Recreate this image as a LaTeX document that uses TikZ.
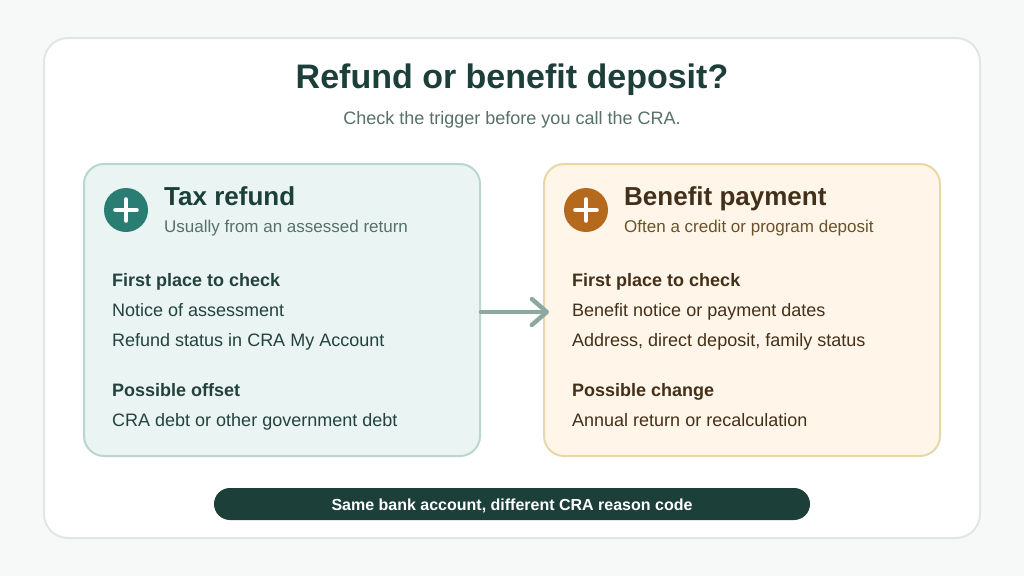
\documentclass[tikz,border=0pt]{standalone}
\usepackage{fontspec}
\setmainfont{Liberation Sans}
\usetikzlibrary{arrows.meta}
\definecolor{pagebg}{HTML}{F6F9F8}
\definecolor{panelline}{HTML}{DFE6E3}
\definecolor{darkgreen}{HTML}{1C3F3A}
\definecolor{greytext}{HTML}{56706A}
\definecolor{taxfill}{HTML}{EAF5F3}
\definecolor{taxline}{HTML}{B9D6CF}
\definecolor{taxicon}{HTML}{2A7D73}
\definecolor{taxbody}{HTML}{24423D}
\definecolor{benefitfill}{HTML}{FFF5E8}
\definecolor{benefitline}{HTML}{E8D8A8}
\definecolor{benefiticon}{HTML}{B5691D}
\definecolor{benefitdark}{HTML}{43301A}
\definecolor{benefitsub}{HTML}{6B5228}
\definecolor{arrowcol}{HTML}{8CA8A1}
\tikzset{
	txt/.style={anchor=base west,inner sep=0pt},
	card/.style={draw,line width=2pt,rounded corners=20pt,minimum width=396pt,minimum height=292pt,inner sep=0pt},
	icon/.style={circle,minimum size=44pt,inner sep=0pt},
	plus/.style={white,line width=4.6pt,line cap=round},
	heading/.style={txt,font=\fontsize{26}{26}\selectfont\bfseries},
	subhead/.style={txt,font=\fontsize{17}{17}\selectfont},
	bodyhead/.style={txt,font=\fontsize{18}{18}\selectfont\bfseries},
	bodyline/.style={txt,font=\fontsize{18}{18}\selectfont}
}
\begin{document}
\begin{tikzpicture}[x=1pt,y=-1pt]
\useasboundingbox[fill=pagebg] (0,0) rectangle (1024,576);
\node(panel) [draw=panelline,fill=white,line width=2pt,rounded corners=24pt,minimum width=936pt,minimum height=500pt,inner sep=0pt] at (512,288) {};
\node(title) [darkgreen,inner sep=0pt,anchor=base,font=\fontsize{34}{34}\selectfont\bfseries] at (512,88) {Refund or benefit deposit?};
\node(subtitle) [greytext,inner sep=0pt,anchor=base,font=\fontsize{18}{18}\selectfont] at (512,124) {Check the trigger before you call the CRA.};

%left card
\node(taxcard) [card,draw=taxline,fill=taxfill] at (282,310) {};
\node(taxicon) [icon,fill=taxicon] at (126,210) {};
\draw[plus] (115.5,210) -- (136.5,210);
\draw[plus] (126,199.5) -- (126,220.5);
\node(taxhead) [heading,darkgreen] at (164,205) {Tax refund};
\node(taxsub) [subhead,greytext] at (164,232) {Usually from an assessed return};
\node(taxfirst) [bodyhead,taxbody] at (112,286) {First place to check};
\node(taxnotice) [bodyline,taxbody] at (112,316) {Notice of assessment};
\node(taxstatus) [bodyline,taxbody] at (112,346) {Refund status in CRA My Account};
\node(taxoffset) [bodyhead,taxbody] at (112,396) {Possible offset};
\node(taxdebt) [bodyline,taxbody] at (112,426) {CRA debt or other government debt};

%right card
\node(bencard) [card,draw=benefitline,fill=benefitfill] at (742,310) {};
\node(benicon) [icon,fill=benefiticon] at (586,210) {};
\draw[plus] (575.5,210) -- (596.5,210);
\draw[plus] (586,199.5) -- (586,220.5);
\node(benhead) [heading,benefitdark] at (624,205) {Benefit payment};
\node(bensub) [subhead,benefitsub] at (624,232) {Often a credit or program deposit};
\node(benfirst) [bodyhead,benefitdark] at (572,286) {First place to check};
\node(bendates) [bodyline,benefitdark] at (572,316) {Benefit notice or payment dates};
\node(benaddress) [bodyline,benefitdark] at (572,346) {Address, direct deposit, family status};
\node(benchange) [bodyhead,benefitdark] at (572,396) {Possible change};
\node(benannual) [bodyline,benefitdark] at (572,426) {Annual return or recalculation};

%arrow between the cards
\coordinate(arrowstart) at ([yshift=-2pt]taxcard.east);
\coordinate(arrowend) at (549,312);
\draw[arrowcol,line width=4.4pt,line cap=round,-{Straight Barb[length=15pt,width=26pt,line width=4.4pt,round]}] (arrowstart) -- (arrowend);

%bottom bar
\node(footer) [fill=darkgreen,rounded corners=16pt,minimum width=596pt,minimum height=32pt,inner sep=0pt] at (512,504) {};
\node(footertext) [white,inner sep=0pt,anchor=base,font=\fontsize{16}{16}\selectfont\bfseries] at (512,510) {Same bank account, different CRA reason code};
\end{tikzpicture}
\end{document}
